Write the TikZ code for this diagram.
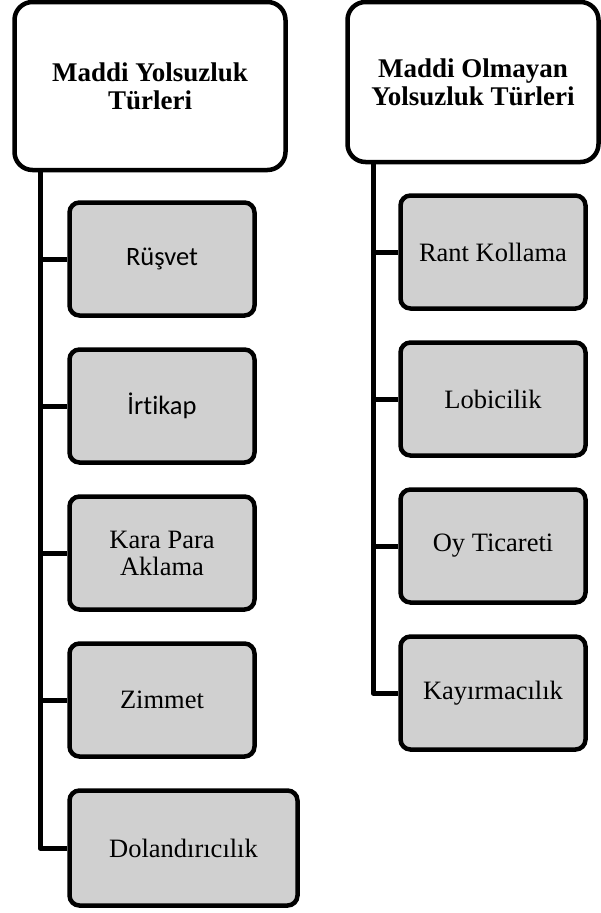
\documentclass[tikz,border=0pt]{standalone}
\usepackage{fontspec}
\setmainfont{Liberation Serif}
\newfontfamily\calibrifont[Ligatures=NoCommon]{Carlito}
\usepackage{xcolor}
\usepackage{tikz}
\definecolor{boxgray}{RGB}{208, 208, 208}
\usetikzlibrary{positioning, calc}

\begin{document}
\begin{tikzpicture}[
    x=1pt, y=-1pt,
    node distance=29.5pt,
    header/.style={rectangle, draw=black, fill=white, line width=4.5pt,
                minimum width=271pt, minimum height=168pt, align=center,
                rounded corners=18pt, font=\fontsize{27}{28}\selectfont\bfseries},
    item/.style={rectangle, draw=black, fill=boxgray, line width=4.5pt,
                minimum width=185pt, minimum height=113pt, align=center,
                rounded corners=10pt, font=\fontsize{26.5}{27}\selectfont},
    link/.style={line width=5pt, black, line join=round}
]
    \useasboundingbox (0,0) rectangle (601,913);

    % left column
    \node[header] (maddi) at (150,86) {Maddi Yolsuzluk\\Türleri};
    \node[item] (rusvet) at (162,259) {\calibrifont Rüşvet};
    \node[item, below=of rusvet] (irtikap) {\calibrifont İrtikap};
    \node[item, below=of irtikap] (karapara) {Kara Para\\Aklama};
    \node[item, below=of karapara] (zimmet) {Zimmet};
    \node[item, minimum width=228pt, minimum height=115pt,
          below=of zimmet.south west, anchor=north west] (dolandir) {Dolandırıcılık};

    % right column
    \node[header, minimum width=251pt, minimum height=160pt] (nmaddi) at (473,82)
        {Maddi Olmayan\\Yolsuzluk Türleri};
    \node[item] (rant) at (493,252) {Rant Kollama};
    \node[item, below=of rant] (lobi) {Lobicilik};
    \node[item, below=of lobi] (oyticaret) {Oy Ticareti};
    \node[item, below=of oyticaret] (kayirma) {Kayırmacılık};

    % trunks
    \coordinate (lbase) at ([xshift=-110pt]maddi.south);
    \coordinate (rbase) at ([xshift=-100pt]nmaddi.south);

    \draw[link] (lbase) |- (dolandir.west);
    \draw[link] (lbase |- rusvet.west) -- (rusvet.west);
    \draw[link] (lbase |- irtikap.west) -- (irtikap.west);
    \draw[link] (lbase |- karapara.west) -- (karapara.west);
    \draw[link] (lbase |- zimmet.west) -- (zimmet.west);

    \draw[link] (rbase) |- (kayirma.west);
    \draw[link] (rbase |- rant.west) -- (rant.west);
    \draw[link] (rbase |- lobi.west) -- (lobi.west);
    \draw[link] (rbase |- oyticaret.west) -- (oyticaret.west);
\end{tikzpicture}
\end{document}
